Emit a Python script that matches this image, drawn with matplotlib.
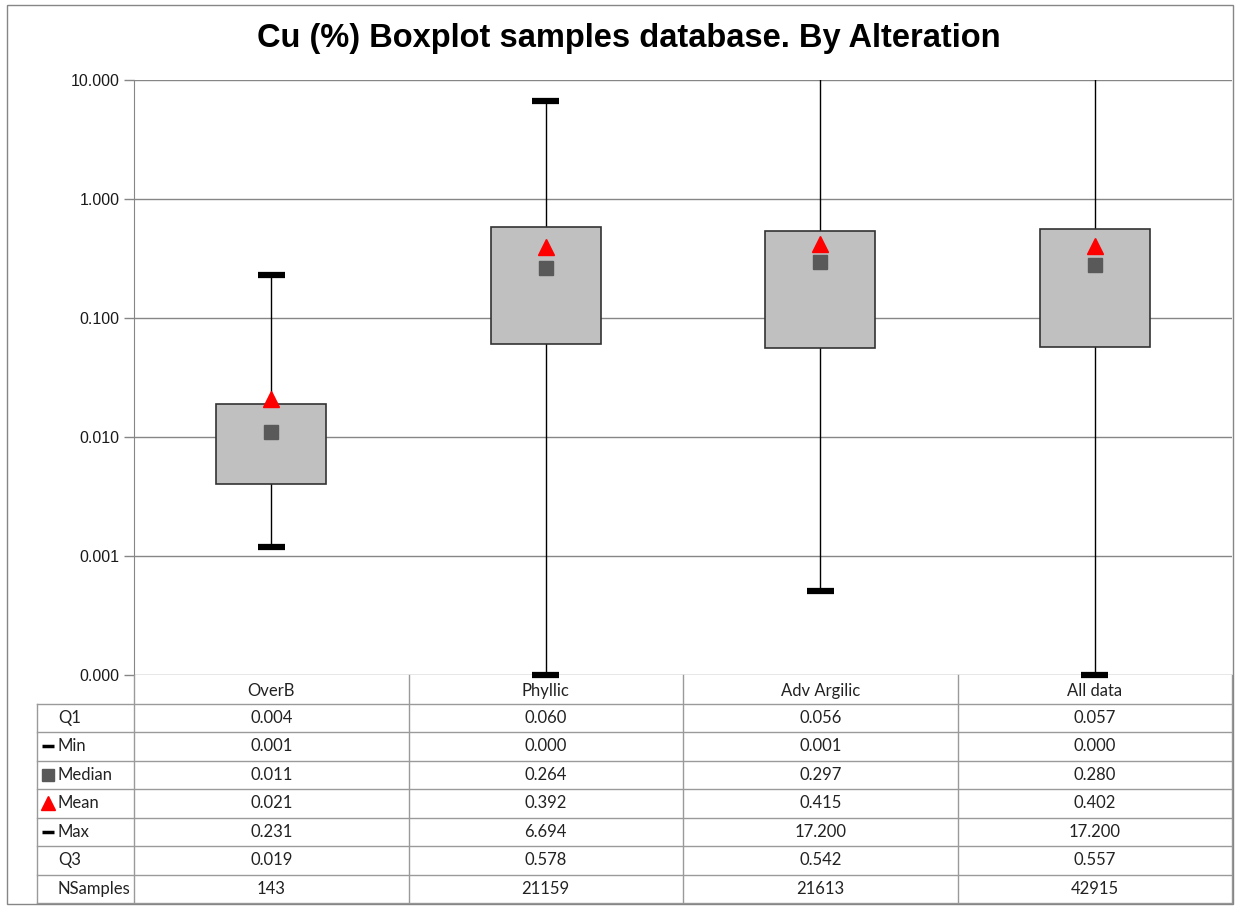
import matplotlib
matplotlib.use("Agg")
import matplotlib.pyplot as plt
from matplotlib.patches import Rectangle
from matplotlib.ticker import FuncFormatter, NullLocator

categories = ["OverB", "Phyllic", "Adv Argilic", "All data"]
q1 = [0.004, 0.060, 0.056, 0.057]
mins = [0.0012, 0.0001, 0.00051, 0.0001]
medians = [0.011, 0.264, 0.297, 0.280]
means = [0.021, 0.392, 0.415, 0.402]
maxs = [0.231, 6.694, 17.200, 17.200]
q3 = [0.019, 0.578, 0.542, 0.557]
nsamples = [143, 21159, 21613, 42915]
yticks = [0.0001, 0.001, 0.01, 0.1, 1, 10]

W, H = 1249, 907
fig = plt.figure(figsize=(W / 100, H / 100), dpi=100)

grid_c = "#868686"
txt_c = "#1a1a1a"

# plot area (pixel layout of the original)
px_l, px_r, px_t, px_b = 134, 1232, 80, 675
ax = fig.add_axes([px_l / W, 1 - px_b / H, (px_r - px_l) / W, (px_b - px_t) / H])
ax.set_yscale("log")
ax.set_ylim(1e-4, 10)
ax.set_xlim(-0.5, len(categories) - 0.5)
ax.set_yticks(yticks)
ax.yaxis.set_minor_locator(NullLocator())
ax.yaxis.set_major_formatter(FuncFormatter(lambda v, p: f"{v:.3f}"))
ax.set_xticks([])
for s in ["top", "right", "bottom"]:
    ax.spines[s].set_visible(False)
ax.spines["left"].set_color(grid_c)
ax.tick_params(axis="y", colors=grid_c, length=7, width=1, labelcolor=txt_c)
for lab in ax.get_yticklabels():
    lab.set_fontfamily("Liberation Sans")
    lab.set_fontsize(11.5)
ax.grid(axis="y", color=grid_c, linewidth=1)
ax.set_axisbelow(True)

xs = list(range(len(categories)))
ax.vlines(xs, mins, maxs, color="black", linewidth=1.0, zorder=2)
ax.bar(xs, [b - a for a, b in zip(q1, q3)], bottom=q1, width=0.4,
       color="#C0C0C0", edgecolor="#333333", linewidth=1.2, zorder=3)
cap_w = 0.05
for x, v in zip(xs + xs, mins + maxs):
    if v <= 10:
        ax.hlines(v, x - cap_w, x + cap_w, color="black", linewidth=4.5,
                  zorder=4, clip_on=False)
ax.plot(xs, medians, "s", color="#595959", markersize=10, zorder=5)
ax.plot(xs, means, "^", color="#ff0000", markersize=11, zorder=5)

fig.text(629 / W, 1 - 38 / H, "Cu (%) Boxplot samples database. By Alteration",
         ha="center", va="center", fontsize=23.5, fontweight="bold",
         family="Liberation Sans", color="black")

# data table under the plot
t_l, t_b = 37, 903
lab_w = (px_l - t_l) / ((px_r - px_l) / len(categories))
tax = fig.add_axes([t_l / W, 1 - t_b / H, (px_r - t_l) / W, (t_b - px_b) / H])
x0 = -0.5 - lab_w
tax.set_xlim(x0, len(categories) - 0.5)
tax.set_ylim(8, 0)
tax.axis("off")

rows = [
    ("Q1", None, [f"{v:.3f}" for v in q1]),
    ("Min", "min", [f"{v:.3f}" for v in mins]),
    ("Median", "med", [f"{v:.3f}" for v in medians]),
    ("Mean", "mean", [f"{v:.3f}" for v in means]),
    ("Max", "max", [f"{v:.3f}" for v in maxs]),
    ("Q3", None, [f"{v:.3f}" for v in q3]),
    ("NSamples", None, [str(v) for v in nsamples]),
]

lc = "#9a9a9a"
tfont = dict(family="Lato", fontsize=12, color="#222222")
# horizontal lines
for r in range(1, 9):
    tax.plot([x0, 3.5], [r, r], color=lc, lw=1, clip_on=False)
# vertical lines
tax.plot([x0, x0], [1, 8], color=lc, lw=1, clip_on=False)
for xb in [-0.5, 0.5, 1.5, 2.5, 3.5]:
    tax.plot([xb, xb], [0, 8], color=lc, lw=1, clip_on=False)

for i, c in enumerate(categories):
    tax.text(i, 0.55, c, ha="center", va="center", **tfont)

for r, (name, mk, vals) in enumerate(rows, start=1):
    yc = r + 0.5
    tax.text(x0 + 0.076, yc, name, ha="left", va="center", **tfont)
    mx = x0 + 0.04
    if mk in ("min", "max"):
        tax.plot([mx - 0.022, mx + 0.022], [yc, yc], color="black", lw=2.5,
                 solid_capstyle="butt")
    elif mk == "med":
        tax.plot(mx, yc, "s", color="#595959", markersize=8.5)
    elif mk == "mean":
        tax.plot(mx, yc, "^", color="#ff0000", markersize=9.5)
    for i, v in enumerate(vals):
        tax.text(i, yc, v, ha="center", va="center", **tfont)

# outer chart frame
fig.patches.append(Rectangle((7 / W, 1 - 904 / H), (1233 - 7) / W, (904 - 5) / H,
                             transform=fig.transFigure, fill=False,
                             edgecolor=grid_c, linewidth=1))

fig.savefig("out.png", dpi=100)
